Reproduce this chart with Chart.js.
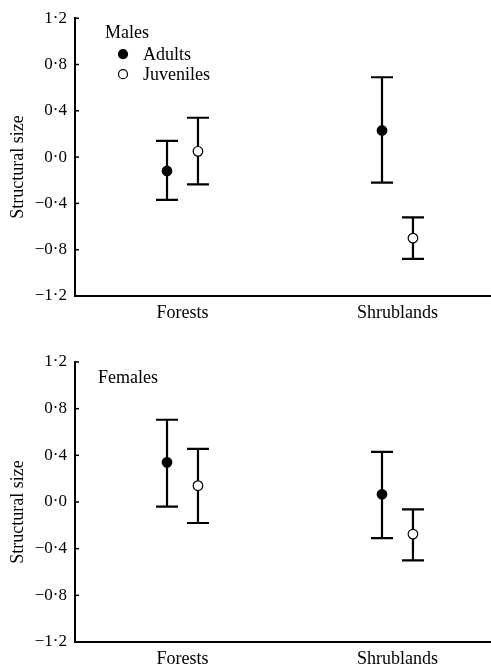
<!DOCTYPE html>
<html>
<head>
<meta charset="utf-8">
<script src="https://cdn.jsdelivr.net/npm/chart.js@4.4.0/dist/chart.umd.min.js"></script>
<style>
  html, body { margin: 0; padding: 0; background: #fff; }
  canvas { display: block; }
</style>
</head>
<body>
<canvas id="malesChart" width="491" height="330"></canvas>
<canvas id="femalesChart" width="491" height="336"></canvas>
<script>
// ------------------- Data -------------------
const habitats = ["Forests", "Shrublands"];
const yTicks = [-1.2, -0.8, -0.4, 0, 0.4, 0.8, 1.2];

const malesAdultMean = [-0.12, 0.23];
const malesAdultUpper = [0.14, 0.69];
const malesAdultLower = [-0.37, -0.22];
const malesJuvMean = [0.05, -0.70];
const malesJuvUpper = [0.34, -0.52];
const malesJuvLower = [-0.235, -0.88];

const femalesAdultMean = [0.34, 0.066];
const femalesAdultUpper = [0.705, 0.43];
const femalesAdultLower = [-0.04, -0.31];
const femalesJuvMean = [0.14, -0.275];
const femalesJuvUpper = [0.455, -0.063];
const femalesJuvLower = [-0.18, -0.50];

const SERIF = '"Liberation Serif", "Times New Roman", serif';
const GROUP_OFFSET = 0.072; // adults left of the habitat, juveniles right

// ------------------- Helpers -------------------
function formatTick(v) {
  if (Math.abs(v) < 1e-9) return "0·0";
  return (v < 0 ? "\u2212" : "") + Math.abs(v).toFixed(1).replace(".", "·");
}

function points(mean, upper, lower, shift) {
  return habitats.map((h, i) => ({ x: i + 1 + shift, y: mean[i], hi: upper[i], lo: lower[i] }));
}

// error bars go under the markers so open circles stay white inside
const errorBars = {
  id: "errorBars",
  beforeDatasetsDraw(chart) {
    const ctx = chart.ctx, xs = chart.scales.x, ys = chart.scales.y;
    ctx.save();
    ctx.strokeStyle = "#000";
    ctx.lineWidth = 2.2;
    chart.data.datasets.forEach(ds => ds.data.forEach(p => {
      const px = xs.getPixelForValue(p.x);
      const top = ys.getPixelForValue(p.hi);
      const bot = ys.getPixelForValue(p.lo);
      ctx.beginPath();
      ctx.moveTo(px, top); ctx.lineTo(px, bot);
      ctx.moveTo(px - 11, top); ctx.lineTo(px + 11, top);
      ctx.moveTo(px - 11, bot); ctx.lineTo(px + 11, bot);
      ctx.stroke();
    }));
    ctx.restore();
  },
  afterDraw(chart) {
    const ctx = chart.ctx, ys = chart.scales.y, a = chart.chartArea;
    ctx.save();
    // small inward tick marks on the y axis
    ctx.strokeStyle = "#000";
    ctx.lineWidth = 1.5;
    yTicks.forEach(v => {
      const py = ys.getPixelForValue(v);
      ctx.beginPath();
      ctx.moveTo(a.left, py); ctx.lineTo(a.left + 4, py);
      ctx.stroke();
    });
    // y title sits a little below the axis middle
    ctx.fillStyle = "#000";
    ctx.font = "18px " + SERIF;
    ctx.textAlign = "center";
    ctx.textBaseline = "middle";
    ctx.translate(18, (a.top + a.bottom) / 2 + 10);
    ctx.rotate(-Math.PI / 2);
    ctx.fillText("Structural size", 0, 0);
    ctx.restore();
  }
};

// panel label + marker key inside the plot
const panelKey = {
  id: "panelKey",
  afterDraw(chart, args, opts) {
    const ctx = chart.ctx, a = chart.chartArea;
    ctx.save();
    ctx.fillStyle = "#000";
    ctx.font = "18px " + SERIF;
    ctx.textBaseline = "middle";
    ctx.textAlign = "left";
    ctx.fillText(opts.title, a.left + opts.dx, a.top + opts.dy);
    if (opts.showKey) {
      chart.data.datasets.forEach((ds, i) => {
        const y = a.top + 36 + i * 20;
        ctx.beginPath();
        ctx.arc(a.left + 48, y, 4.5, 0, Math.PI * 2);
        ctx.fillStyle = ds.pointBackgroundColor;
        ctx.fill();
        ctx.lineWidth = 1.2;
        ctx.strokeStyle = "#000";
        ctx.stroke();
        ctx.fillStyle = "#000";
        ctx.fillText(ds.label, a.left + 68, y + 1);
      });
    }
    ctx.restore();
  }
};

function renderPanel(id, title, showKey, adult, juv, topPad, xHeight, dx, dy) {
  new Chart(document.getElementById(id), {
    type: "scatter",
    data: {
      datasets: [
        {
          label: "Adults",
          data: points(adult[0], adult[1], adult[2], -GROUP_OFFSET),
          pointRadius: 4.8,
          pointBackgroundColor: "#000",
          pointBorderColor: "#000",
          pointBorderWidth: 1.2,
        },
        {
          label: "Juveniles",
          data: points(juv[0], juv[1], juv[2], GROUP_OFFSET),
          pointRadius: 4.8,
          pointBackgroundColor: "#fff",
          pointBorderColor: "#000",
          pointBorderWidth: 1.2,
        },
      ],
    },
    options: {
      responsive: false,
      animation: false,
      layout: { autoPadding: false, padding: { top: topPad, right: 0, left: 0, bottom: 0 } },
      scales: {
        x: {
          type: "linear",
          min: 0.5,
          max: 2.435,
          afterBuildTicks: (scale) => { scale.ticks = habitats.map((h, i) => ({ value: i + 1 })); },
          afterFit: (scale) => {
            scale.height = xHeight;
            scale.paddingLeft = 0;
            scale.paddingRight = 0;
          },
          grid: { display: false, drawTicks: false },
          border: { display: true, color: "#000", width: 2 },
          ticks: {
            color: "#000",
            font: { family: SERIF, size: 18 },
            padding: 6,
            callback: (v) => habitats[v - 1],
          },
        },
        y: {
          min: -1.2,
          max: 1.2,
          afterBuildTicks: (scale) => { scale.ticks = yTicks.map(v => ({ value: v })); },
          afterFit: (scale) => { scale.width = 75; },
          grid: { display: false, drawTicks: false },
          border: { display: true, color: "#000", width: 2 },
          ticks: {
            color: "#000",
            font: { family: SERIF, size: 17 },
            padding: 8,
            callback: formatTick,
          },
        },
      },
      plugins: {
        legend: { display: false },
        tooltip: { enabled: false },
        panelKey: { title: title, showKey: showKey, dx: dx, dy: dy },
      },
    },
    plugins: [errorBars, panelKey],
  });
}

renderPanel("malesChart", "Males", true,
  [malesAdultMean, malesAdultUpper, malesAdultLower],
  [malesJuvMean, malesJuvUpper, malesJuvLower], 17, 34, 30, 15);
renderPanel("femalesChart", "Females", false,
  [femalesAdultMean, femalesAdultUpper, femalesAdultLower],
  [femalesJuvMean, femalesJuvUpper, femalesJuvLower], 32, 24, 23, 16);
</script>
</body>
</html>
